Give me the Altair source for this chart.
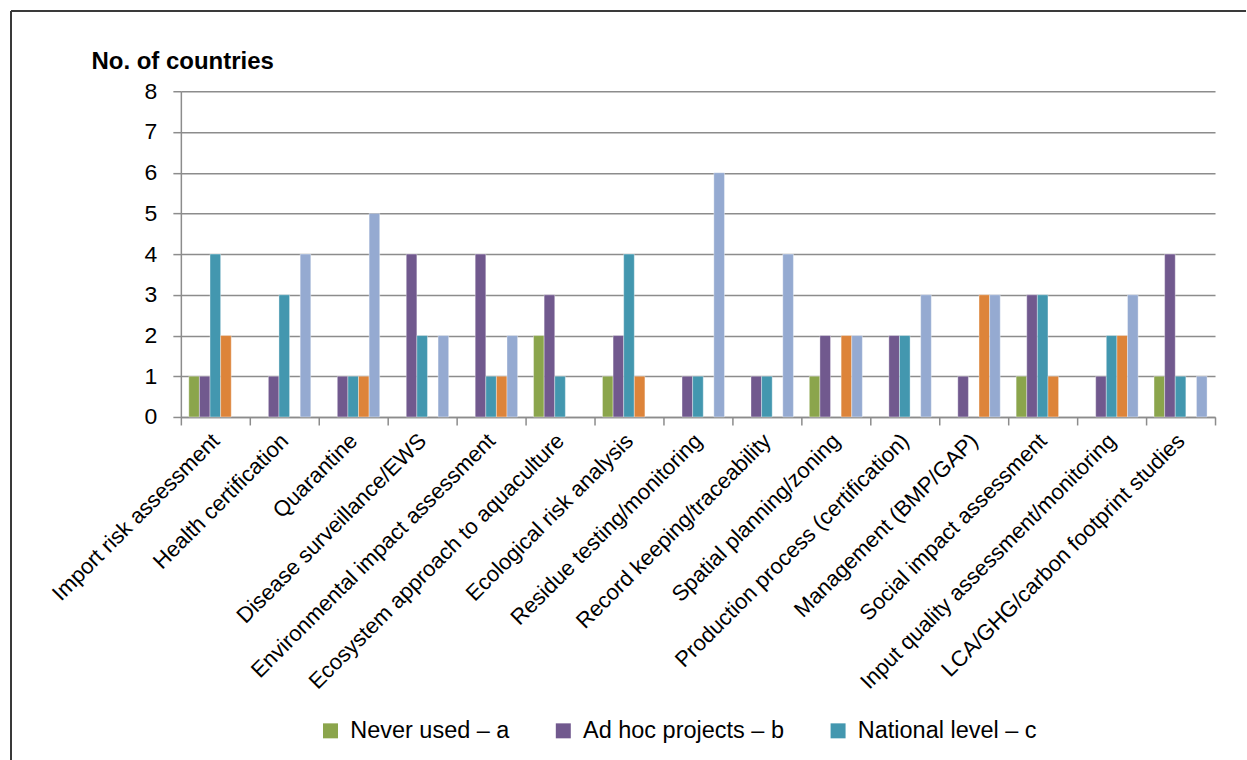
import altair as alt
import pandas as pd

categories = [
    "Import risk assessment",
    "Health certification",
    "Quarantine",
    "Disease surveillance/EWS",
    "Environmental impact assessment",
    "Ecosystem approach to aquaculture",
    "Ecological risk analysis",
    "Residue testing/monitoring",
    "Record keeping/traceability",
    "Spatial planning/zoning",
    "Production process (certification)",
    "Management (BMP/GAP)",
    "Social impact assessment",
    "Input quality assessment/monitoring",
    "LCA/GHG/carbon footprint studies",
]

series_names = [
    "Never used – a",
    "Ad hoc projects – b",
    "National level – c",
    "Regional level – d",
    "International level – e",
]
series_colors = ["#8BA54C", "#71598E", "#4397AF", "#DD843A", "#95AAD1"]

never_used = [1, 0, 0, 0, 0, 2, 1, 0, 0, 1, 0, 0, 1, 0, 1]
ad_hoc = [1, 1, 1, 4, 4, 3, 2, 1, 1, 2, 2, 1, 3, 1, 4]
national = [4, 3, 1, 2, 1, 1, 4, 1, 1, 0, 2, 0, 3, 2, 1]
series_d = [2, 0, 1, 0, 1, 0, 1, 0, 0, 2, 0, 3, 1, 2, 0]
series_e = [0, 4, 5, 2, 2, 0, 0, 6, 4, 2, 3, 3, 0, 3, 1]

y_ticks = [0, 1, 2, 3, 4, 5, 6, 7, 8]

all_series = [never_used, ad_hoc, national, series_d, series_e]
rows = []
for name, vals in zip(series_names, all_series):
    for cat, v in zip(categories, vals):
        rows.append({"category": cat, "series": name, "value": v})
df = pd.DataFrame(rows)

FONT = "Liberation Sans"
GRID = "#8c8c8c"

bars = alt.Chart(df).transform_filter("datum.value > 0").mark_bar(
    stroke="white", strokeWidth=0.6, strokeOpacity=0.6
).encode(
    x=alt.X(
        "category:N",
        sort=categories,
        scale=alt.Scale(domain=categories, paddingInner=0, paddingOuter=0),
        axis=alt.Axis(
            title=None,
            labelAngle=315,
            labelAlign="right",
            labelBaseline="middle",
            labelFont=FONT,
            labelFontSize=22,
            labelColor="black",
            labelLimit=500,
            labelPadding=12,
            tickBand="extent",
            tickSize=8,
            tickColor=GRID,
            tickWidth=1.5,
            domainColor=GRID,
            domainWidth=1.5,
            grid=False,
        ),
    ),
    xOffset=alt.XOffset(
        "series:N",
        sort=series_names,
        scale=alt.Scale(domain=series_names, paddingInner=0, paddingOuter=0.75),
    ),
    y=alt.Y(
        "value:Q",
        scale=alt.Scale(domain=[0, 8], nice=False),
        axis=alt.Axis(
            values=y_ticks,
            format="d",
            title="No. of countries",
            titleAngle=0,
            titleAlign="left",
            titleBaseline="alphabetic",
            titleX=-90,
            titleY=-23,
            titleFont=FONT,
            titleFontSize=24,
            titleFontWeight="bold",
            titleColor="black",
            labelFont=FONT,
            labelFontSize=23,
            labelColor="black",
            labelPadding=16,
            tickSize=8,
            tickColor=GRID,
            tickWidth=1.5,
            domainColor=GRID,
            domainWidth=1.5,
            grid=True,
            gridColor=GRID,
            gridWidth=1.5,
        ),
    ),
    color=alt.Color(
        "series:N",
        sort=series_names,
        scale=alt.Scale(domain=series_names, range=series_colors),
        legend=alt.Legend(
            values=series_names[:3],
            title=None,
            orient="none",
            direction="horizontal",
            legendX=138,
            legendY=628,
            symbolType="square",
            symbolSize=225,
            symbolStrokeWidth=0,
            labelFont=FONT,
            labelFontSize=23.5,
            labelColor="black",
            labelLimit=400,
            labelOffset=8,
            columnPadding=42,
        ),
    ),
)

frame_top = alt.Chart(df).mark_rule(color="#3a3a3a", strokeWidth=1.5).encode(
    x=alt.value(-170), x2=alt.value(1066), y=alt.value(-80)
)
frame_left = alt.Chart(df).mark_rule(color="#3a3a3a", strokeWidth=1.5).encode(
    x=alt.value(-170), y=alt.value(-80), y2=alt.value(669)
)

chart = (
    alt.layer(bars, frame_top, frame_left)
    .properties(
        width=1035,
        height=326,
        padding={"left": 10, "top": 10, "right": 0, "bottom": 0},
        background="white",
    )
    .configure_view(stroke=None)
)

chart.save("out.html", embed_options={"renderer": "svg", "actions": False})
